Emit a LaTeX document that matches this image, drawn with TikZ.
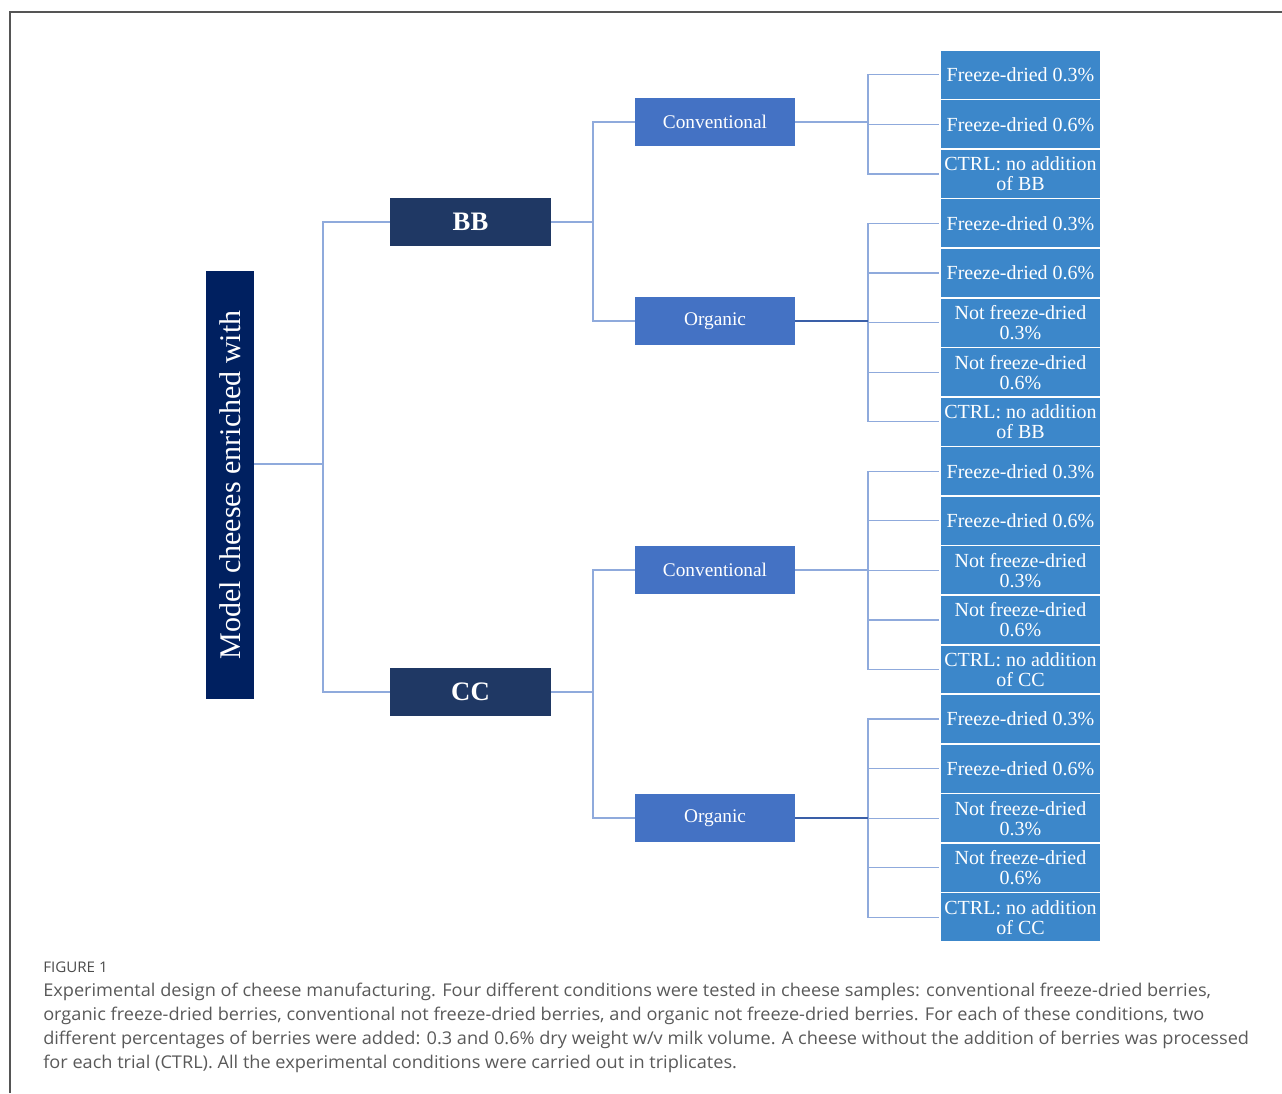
\documentclass[tikz,border=0pt]{standalone}
\usepackage{fontspec}
\setmainfont{Liberation Serif}
\newfontfamily\capfont[FakeStretch=1.032]{Open Sans}
\definecolor{rootc}{HTML}{002060}
\definecolor{levc}{HTML}{1F3864}
\definecolor{midc}{HTML}{4472C4}
\definecolor{leafc}{HTML}{3C87CA}
\definecolor{connc}{HTML}{8FAADC}
\definecolor{conndk}{HTML}{3A5FA8}
\definecolor{capc}{HTML}{595959}
\definecolor{framec}{HTML}{555555}
\tikzset{
  box/.style={rectangle, inner sep=0pt, text=white, align=center},
  rootbox/.style={box, fill=rootc, minimum width=321pt, minimum height=36pt, rotate=90, font=\fontsize{22.5pt}{24pt}\selectfont},
  levbox/.style={box, fill=levc, minimum width=120.75pt, minimum height=36pt, font=\fontsize{20pt}{22pt}\selectfont\bfseries},
  midbox/.style={box, fill=midc, minimum width=120pt, minimum height=36pt, font=\fontsize{14.5pt}{15pt}\selectfont},
  leafbox/.style={box, fill=leafc, draw=white, line width=1.2pt, minimum width=121pt, minimum height=37.2pt, font=\fontsize{15pt}{15pt}\selectfont},
  conn/.style={draw=connc, line width=0.9pt},
  conndark/.style={draw=conndk, line width=0.9pt},
  capline/.style={anchor=base west, inner sep=0pt, text=capc, font=\capfont\fontsize{13.2pt}{18pt}\selectfont},
}
\begin{document}
\begin{tikzpicture}[x=0.75pt, y=-0.75pt]
\useasboundingbox (0,0) rectangle (1282,1093);
\draw[draw=framec, line width=1.1pt] (10,1093) -- (10,12) -- (1282,12);

% root and level nodes
\node[rootbox] (root) at (230,485) {Model cheeses enriched with};
\node[levbox] (bb) at (470.5,222) {BB};
\node[levbox] (cc) at (470.5,692) {CC};

\node[midbox] (c1) at (715,122) {Conventional};
\node[midbox] (o1) at (715,321) {Organic};
\node[midbox] (c2) at (715,570) {Conventional};
\node[midbox] (o2) at (715,818) {Organic};

% leaves
\foreach \i/\t in {
  1/{Freeze-dried 0.3\%},
  2/{Freeze-dried 0.6\%},
  3/{CTRL: no addition\\of BB},
  4/{Freeze-dried 0.3\%},
  5/{Freeze-dried 0.6\%},
  6/{Not freeze-dried\\0.3\%},
  7/{Not freeze-dried\\0.6\%},
  8/{CTRL: no addition\\of BB},
  9/{Freeze-dried 0.3\%},
  10/{Freeze-dried 0.6\%},
  11/{Not freeze-dried\\0.3\%},
  12/{Not freeze-dried\\0.6\%},
  13/{CTRL: no addition\\of CC},
  14/{Freeze-dried 0.3\%},
  15/{Freeze-dried 0.6\%},
  16/{Not freeze-dried\\0.3\%},
  17/{Not freeze-dried\\0.6\%},
  18/{CTRL: no addition\\of CC}}
  \node[leafbox] (l\i) at (1020.5,{50+49.56*(\i-0.5)}) {\t};

% junctions
\coordinate (j0) at (323,464);
\coordinate (jb) at (593,222);
\coordinate (jc) at (593,692);
\coordinate (j1) at (868,122);
\coordinate (j2) at (868,321);
\coordinate (j3) at (868,570);
\coordinate (j4) at (868,818);

% connectors
\draw[conn] (root.south |- j0) -- (j0);
\draw[conn] (j0) |- (bb.west);
\draw[conn] (j0) |- (cc.west);
\draw[conn] (bb.east) -- (jb);
\draw[conn] (jb) |- (c1.west);
\draw[conn] (jb) |- (o1.west);
\draw[conn] (cc.east) -- (jc);
\draw[conn] (jc) |- (c2.west);
\draw[conn] (jc) |- (o2.west);
\draw[conn] (c1.east) -- (j1);
\draw[conn] (c2.east) -- (j3);
\foreach \i in {1,2,3} \draw[conn] (j1) |- (l\i.west);
\foreach \i in {4,5,6,7,8} \draw[conn] (j2) |- (l\i.west);
\foreach \i in {9,10,11,12,13} \draw[conn] (j3) |- (l\i.west);
\foreach \i in {14,15,16,17,18} \draw[conn] (j4) |- (l\i.west);
\draw[conndark] (o1.east) -- (j2);
\draw[conndark] (o2.east) -- (j4);

% caption
\node[anchor=base west, inner sep=0pt, text=capc!85!black, font=\capfont\fontsize{11pt}{12pt}\selectfont] (figlab) at (43,972) {FIGURE 1};
\node[capline] (cap1) at (43,996) {Experimental design of cheese manufacturing. Four different conditions were tested in cheese samples: conventional freeze-dried berries,};
\node[capline] (cap2) at (43,1020) {organic freeze-dried berries, conventional not freeze-dried berries, and organic not freeze-dried berries. For each of these conditions, two};
\node[capline] (cap3) at (43,1044) {different percentages of berries were added: 0.3 and 0.6\% dry weight w/v milk volume. A cheese without the addition of berries was processed};
\node[capline] (cap4) at (43,1068) {for each trial (CTRL). All the experimental conditions were carried out in triplicates.};
\end{tikzpicture}
\end{document}
